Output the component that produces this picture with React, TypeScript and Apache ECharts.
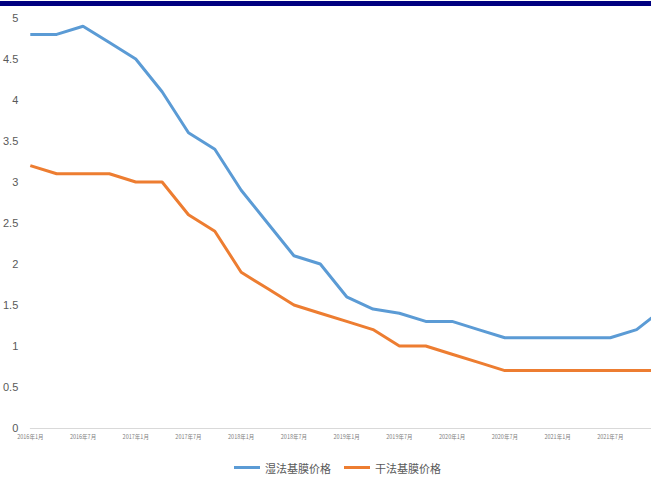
import React, { useEffect, useRef } from "react";
import * as echarts from "echarts";

const categories = [
  "2016年1月", "2016年4月", "2016年7月", "2016年10月",
  "2017年1月", "2017年4月", "2017年7月", "2017年10月",
  "2018年1月", "2018年4月", "2018年7月", "2018年10月",
  "2019年1月", "2019年4月", "2019年7月", "2019年10月",
  "2020年1月", "2020年4月", "2020年7月", "2020年10月",
  "2021年1月", "2021年4月", "2021年7月", "2021年10月",
  "2022年1月",
];

const wetPrices = [
  4.8, 4.8, 4.9, 4.7,
  4.5, 4.1, 3.6, 3.4,
  2.9, 2.5, 2.1, 2.0,
  1.6, 1.45, 1.4, 1.3,
  1.3, 1.2, 1.1, 1.1,
  1.1, 1.1, 1.1, 1.2,
  1.45,
];

const dryPrices = [
  3.2, 3.1, 3.1, 3.1,
  3.0, 3.0, 2.6, 2.4,
  1.9, 1.7, 1.5, 1.4,
  1.3, 1.2, 1.0, 1.0,
  0.9, 0.8, 0.7, 0.7,
  0.7, 0.7, 0.7, 0.7,
  0.7,
];

const seriesNames = ["湿法基膜价格", "干法基膜价格"];
const colors = ["#5B9BD5", "#ED7D31"];

const VIEW_W = 651;
const CHART_W = 690;

export default function App() {
  const ref = useRef<HTMLDivElement>(null);
  useEffect(() => {
    if (!ref.current) return;
    const chart = echarts.init(ref.current, undefined, { renderer: "svg" });
    chart.setOption({
      animation: false,
      backgroundColor: "#ffffff",
      graphic: [
        {
          type: "rect",
          left: 0,
          top: 1,
          shape: { width: CHART_W, height: 5 },
          style: { fill: "#000080" },
          z: 100,
        },
      ],
      legend: {
        top: 462,
        left: 234,
        padding: 0,
        itemWidth: 26,
        itemHeight: 3,
        itemGap: 13,
        icon: "rect",
        textStyle: { color: "#595959", fontSize: 11, fontFamily: "Noto Sans CJK SC" },
        data: seriesNames,
      },
      grid: { left: 30, width: 633, top: 18, bottom: 53, containLabel: false },
      xAxis: {
        type: "category",
        boundaryGap: false,
        data: categories,
        axisLine: { lineStyle: { color: "#d9d9d9", width: 1 } },
        axisTick: { show: false },
        axisLabel: {
          interval: (i: number) => i % 2 === 0 && i < categories.length - 1,
          fontSize: 5.5,
          color: "#7f7f7f",
          margin: 6,
          fontFamily: "Noto Sans CJK SC",
        },
        splitLine: { show: false },
      },
      yAxis: {
        type: "value",
        min: 0,
        max: 5,
        interval: 0.5,
        axisLine: { show: false },
        axisTick: { show: false },
        splitLine: { show: false },
        axisLabel: {
          color: "#595959",
          fontSize: 11,
          margin: 12,
          fontFamily: "Liberation Sans",
        },
      },
      series: [
        {
          name: seriesNames[0],
          type: "line",
          data: wetPrices,
          symbol: "none",
          lineStyle: { color: colors[0], width: 3 },
          itemStyle: { color: colors[0] },
        },
        {
          name: seriesNames[1],
          type: "line",
          data: dryPrices,
          symbol: "none",
          lineStyle: { color: colors[1], width: 3 },
          itemStyle: { color: colors[1] },
        },
      ],
    });
    return () => chart.dispose();
  }, []);
  return (
    <div style={{ width: VIEW_W, height: 481, position: "absolute", left: 0, top: 0, overflow: "hidden" }}>
      <div ref={ref} style={{ width: CHART_W, height: 481 }} />
    </div>
  );
}
